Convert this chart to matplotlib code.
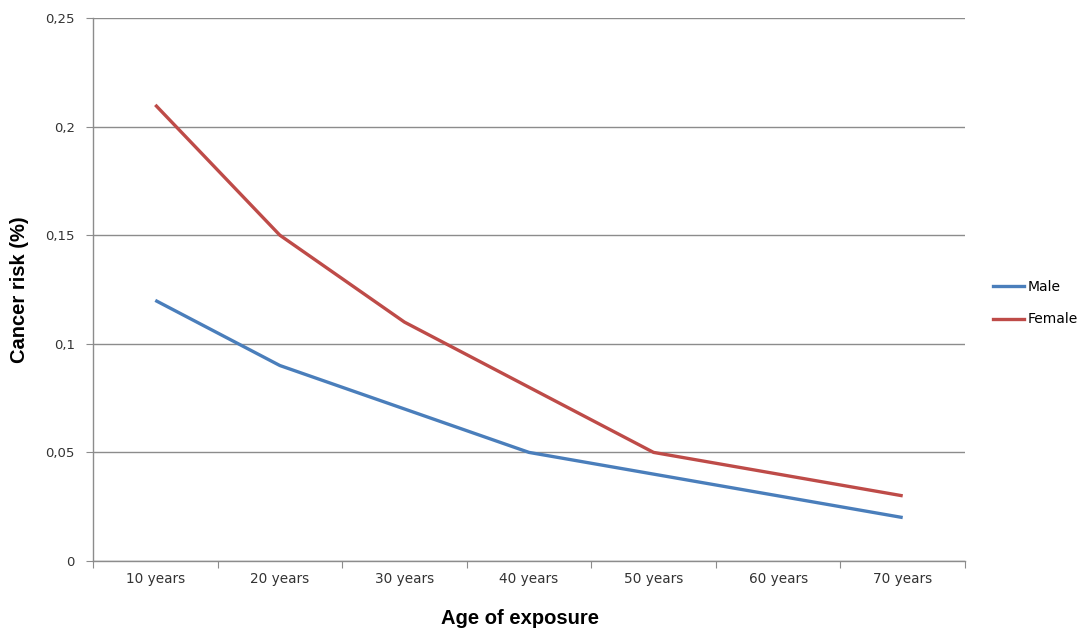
import matplotlib
matplotlib.use("Agg")
import matplotlib.pyplot as plt
from matplotlib.lines import Line2D

categories = ["10 years", "20 years", "30 years", "40 years", "50 years", "60 years", "70 years"]
male = [0.12, 0.09, 0.07, 0.05, 0.04, 0.03, 0.02]
female = [0.21, 0.15, 0.11, 0.08, 0.05, 0.04, 0.03]
yticks = [0, 0.05, 0.1, 0.15, 0.2, 0.25]
ytick_labels = ["0", "0,05", "0,1", "0,15", "0,2", "0,25"]

fig = plt.figure(figsize=(10.83, 6.33), dpi=100)
ax = fig.add_axes([93/1083, 72/633, (965-93)/1083, (561-18)/633])

x = [i + 0.5 for i in range(len(categories))]
male_color = "#4A7EBB"
female_color = "#BE4B48"
ax.plot(x, male, color=male_color, lw=2.4, solid_capstyle="butt")
ax.plot(x, female, color=female_color, lw=2.4, solid_capstyle="butt")

ax.set_xlim(0, len(categories))
ax.set_ylim(0, 0.25)
ax.set_yticks(yticks)
ax.set_yticklabels(ytick_labels, fontsize=9.5, color="#333333")
ax.yaxis.grid(True, color="#8C8C8C", lw=1)
ax.set_axisbelow(True)

ax.set_xticks(range(len(categories) + 1))
ax.set_xticklabels([])
ax.set_xticks(x, minor=True)
ax.set_xticklabels(categories, minor=True, fontsize=9.8, color="#333333")
ax.tick_params(axis="x", which="minor", length=0, pad=8)
ax.tick_params(axis="x", which="major", length=5, color="#8C8C8C")
ax.tick_params(axis="y", length=5, color="#8C8C8C", pad=8)

for s in ["top", "right"]:
    ax.spines[s].set_visible(False)
for s in ["left", "bottom"]:
    ax.spines[s].set_color("#8C8C8C")
    ax.spines[s].set_linewidth(1)

ax.set_ylabel("Cancer risk (%)", fontsize=14.5, fontweight="bold", labelpad=12,
              family="Liberation Sans")
ax.set_xlabel("Age of exposure", fontsize=14.5, fontweight="bold", labelpad=17,
              family="Liberation Sans")
ax.xaxis.set_label_coords(0.49, -0.088)

handles = [Line2D([], [], color=male_color, lw=2.4),
           Line2D([], [], color=female_color, lw=2.4)]
leg = fig.legend(handles, ["Male", "Female"], loc="center left",
                 bbox_to_anchor=(980/1083, 1 - 303/633), frameon=False,
                 fontsize=10, handlelength=2.3, handletextpad=0.25,
                 labelspacing=1.35)

fig.savefig("out.png", dpi=100)
